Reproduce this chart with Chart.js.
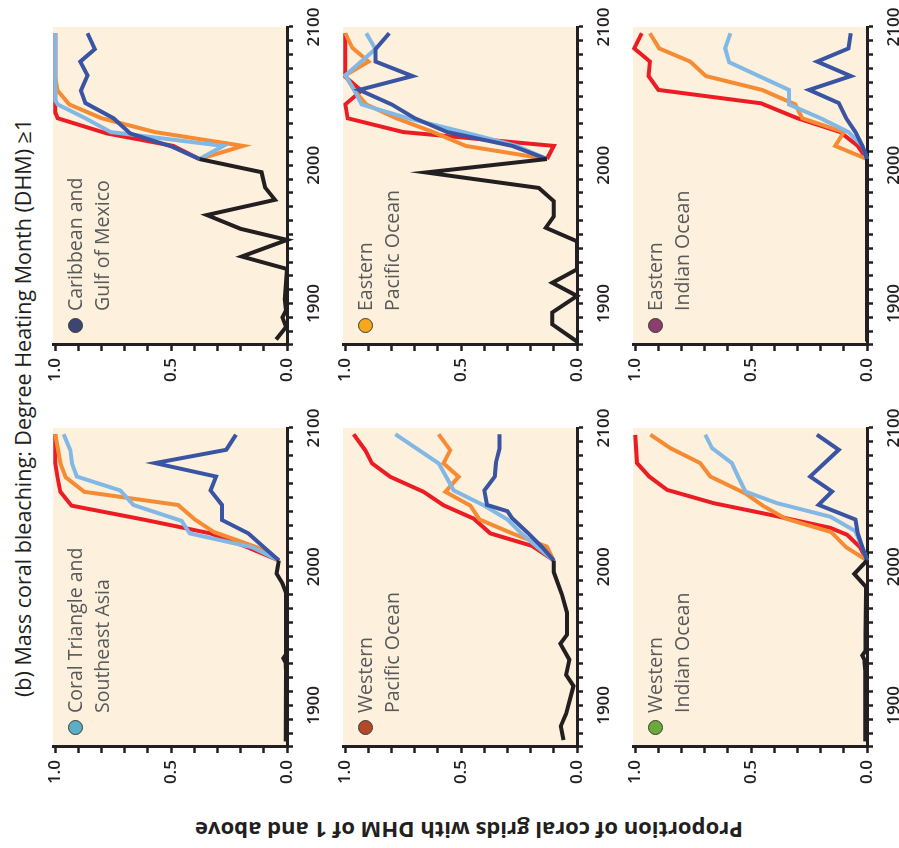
<!DOCTYPE html>
<html><head><meta charset="utf-8">
<script src="https://cdn.jsdelivr.net/npm/chart.js@4.4.1/dist/chart.umd.min.js"></script>
<style>
html,body{margin:0;padding:0;background:#fff;overflow:hidden;width:899px;height:848px;}
#fig{position:absolute;left:0;top:0;width:848px;height:899px;transform-origin:0 0;transform:translateY(848px) rotate(-90deg);}
#fig canvas{position:absolute;}
.lbl{position:absolute;font-family:'Open Sans',sans-serif;font-size:19.5px;line-height:27px;color:#58595b;white-space:nowrap;}
.dot{position:absolute;width:15px;height:15px;border-radius:50%;box-sizing:border-box;border:1px solid #3a3a3a;}
#title{position:absolute;left:151px;top:7.5px;font-family:'Open Sans',sans-serif;font-size:21.5px;line-height:30px;color:#231f20;white-space:nowrap;}
#ytitle{position:absolute;width:700px;height:30px;line-height:30px;text-align:center;font-family:'Open Sans',sans-serif;font-weight:700;font-size:22px;color:#231f20;white-space:nowrap;transform:rotate(-90deg);}
</style></head>
<body>
<div id="fig">
  <div id="title">(b) Mass coral bleaching: Degree Heating Month (DHM) ≥1</div>
  <div id="ytitle">Proportion of coral grids with DHM of 1 and above</div>
</div>
<script>
// ---------- tick labels ----------
const YEAR_LABELS = [1900, 2000, 2100];
const PROP_LABELS = [0.0, 0.5, 1.0];

// ---------- data: [year, proportion] ----------
// Coral Triangle and Southeast Asia
const CTA_HIST = [[1874,0.005],[1925,0.004],[1931,0.006],[1934,0.016],[1937,0.004],[1981,0.004],[1988,0.02],[1995,0.045],[2000,0.04],[2004.5,0.035]];
const CTA_RCP26 = [[2004.5,0.035],[2014,0.1],[2024,0.167],[2033.7,0.281],[2044.6,0.281],[2055,0.33],[2065,0.306],[2074.7,0.57],[2084.3,0.262],[2095.2,0.22]];
const CTA_RCP45 = [[2004.5,0.035],[2014,0.15],[2024,0.42],[2033,0.455],[2044.5,0.663],[2055,0.72],[2065,0.907],[2074.5,0.928],[2084,0.935],[2095.5,0.964]];
const CTA_RCP60 = [[2004.5,0.035],[2014,0.13],[2025,0.315],[2034,0.397],[2044.5,0.47],[2054,0.875],[2064.5,0.955],[2074.5,0.978],[2095.5,1.0]];
const CTA_RCP85 = [[2004.5,0.035],[2014,0.17],[2024,0.33],[2034,0.62],[2044,0.93],[2054,0.978],[2064,0.99],[2074.5,1.0],[2095.5,1.0]];

// Caribbean and Gulf of Mexico
const CAR_HIST = [[1874,0.047],[1883,0.004],[1890,0.02],[1895,0.004],[1903,0.01],[1925,0],[1934,0.195],[1946,0],[1954,0.2],[1964,0.346],[1975,0.052],[1984,0.095],[1995,0.11],[2004.5,0.378]];
const CAR_RCP26 = [[2004.5,0.378],[2013.5,0.497],[2023,0.677],[2034,0.749],[2045,0.87],[2054,0.89],[2065,0.861],[2075,0.892],[2084,0.83],[2095.5,0.861]];
const CAR_RCP45 = [[2004.5,0.378],[2014,0.275],[2024,0.76],[2034,0.87],[2044,0.99],[2047,1.0],[2095.5,1.0]];
const CAR_RCP60 = [[2004.5,0.378],[2014,0.19],[2024,0.57],[2034,0.8],[2044,0.94],[2054,0.99],[2064,1.0],[2095.5,1.0]];
const CAR_RCP85 = [[2004.5,0.378],[2014,0.49],[2023,0.777],[2034,0.99],[2038,1.0],[2095.5,1.0]];

// Western Pacific Ocean
const WPA_HIST = [[1875,0.058],[1885,0.07],[1894,0.047],[1914,0.015],[1922,0.047],[1933,0.033],[1944.5,0.072],[1951,0.043],[1967,0.043],[1980,0.065],[1996,0.1],[2004.5,0.1]];
const WPA_RCP26 = [[2004.5,0.1],[2014,0.15],[2024,0.21],[2035,0.28],[2040,0.3],[2044.5,0.388],[2055,0.4],[2065,0.355],[2075,0.35],[2085,0.335],[2095.5,0.335]];
const WPA_RCP45 = [[2004.5,0.1],[2014,0.17],[2024,0.24],[2034,0.3],[2044,0.4],[2055,0.532],[2074.5,0.597],[2095.5,0.784]];
const WPA_RCP60 = [[2004.5,0.1],[2014.5,0.13],[2024,0.28],[2034,0.42],[2044,0.46],[2054,0.568],[2064.8,0.511],[2074.5,0.576],[2084,0.547],[2095.5,0.597]];
const WPA_RCP85 = [[2004.5,0.1],[2015,0.194],[2024,0.374],[2034.7,0.446],[2044.3,0.576],[2054,0.662],[2064.8,0.806],[2074.5,0.885],[2084,0.914],[2095.5,0.964]];

// Eastern Pacific Ocean
const EPA_HIST = [[1872.5,0],[1885,0.107],[1893.5,0.107],[1905.5,0],[1915,0.107],[1924.7,0],[1945,0],[1954.8,0.135],[1963,0.1],[1974,0.1],[1983.6,0.165],[1994.8,0.652],[2004.5,0.13]];
const EPA_RCP26 = [[2004.5,0.13],[2014,0.28],[2024,0.56],[2034,0.7],[2044,0.8],[2054.5,0.94],[2064.5,0.71],[2075,0.87],[2084,0.87],[2095.5,0.81]];
const EPA_RCP45 = [[2004.5,0.13],[2014,0.26],[2024,0.49],[2034,0.73],[2044,0.93],[2054,0.96],[2065,1.0],[2084,0.87],[2095.5,0.91]];
const EPA_RCP60 = [[2004.5,0.13],[2014,0.48],[2024,0.62],[2034,0.78],[2044,0.91],[2054,0.96],[2065,1.0],[2075,0.9],[2085,0.97],[2095.5,1.0]];
const EPA_RCP85 = [[2004.5,0.13],[2014,0.1],[2024,0.75],[2034,0.99],[2044,1.0],[2054,0.93],[2064,1.0],[2095.5,1.0]];

// Western Indian Ocean
const WIN_HIST = [[1874,0.008],[1925,0.008],[1933,0.012],[1936,0.02],[1939,0.008],[1980,0.004],[1985.6,0.005],[1994.8,0.055],[2004.5,0]];
const WIN_RCP26 = [[2004.5,0],[2014,0.02],[2024,0.04],[2034,0.05],[2044.6,0.209],[2054.2,0.151],[2065,0.245],[2084.3,0.122],[2095.2,0.216]];
const WIN_RCP45 = [[2004.5,0],[2014,0.02],[2025.6,0.05],[2036,0.158],[2045.8,0.388],[2054.2,0.525],[2064.5,0.555],[2074.7,0.583],[2085.5,0.669],[2095.2,0.698]];
const WIN_RCP60 = [[2004.5,0],[2014,0.09],[2025,0.155],[2034.7,0.352],[2044,0.45],[2052.8,0.525],[2065,0.676],[2074.7,0.72],[2085.5,0.849],[2095.2,0.935]];
const WIN_RCP85 = [[2004.5,0],[2014,0.03],[2023,0.086],[2028,0.158],[2037.4,0.417],[2045.8,0.662],[2055.4,0.863],[2065,0.94],[2074.7,0.993],[2095,1.0]];

// Eastern Indian Ocean
const EIN_HIST = [[1872.5,0],[2004.5,0]];
const EIN_RCP26 = [[2004.5,0],[2014,0.02],[2024,0.05],[2034,0.09],[2045,0.122],[2054.5,0.25],[2064.5,0.07],[2075,0.215],[2084.5,0.08],[2095.5,0.07]];
const EIN_RCP45 = [[2004.5,0],[2014,0.02],[2024,0.08],[2034,0.2],[2044,0.337],[2054.5,0.337],[2074.5,0.595],[2084.5,0.612],[2095.5,0.59]];
const EIN_RCP60 = [[2004.5,0],[2014,0.137],[2024,0.1],[2034,0.28],[2044,0.31],[2054.5,0.453],[2064.5,0.695],[2075,0.763],[2084.5,0.897],[2095.5,0.937]];
const EIN_RCP85 = [[2004.5,0],[2014,0.04],[2024,0.115],[2034,0.3],[2044.8,0.458],[2054.5,0.9],[2064.5,0.943],[2075,0.937],[2084.5,1.005],[2095.5,0.972]];

// ---------- styles ----------
const BEIGE = '#fdf0dc';
const INK = '#231f20';
const C_HIST = '#231f20', C_26 = '#3a54a4', C_45 = '#82b8e5', C_60 = '#f68b33', C_85 = '#ec1c24';

const PANELS = [
  {lines:['Coral Triangle and','Southeast Asia'], dot:'#5aafc6', col:0, row:0, s:[CTA_HIST,CTA_RCP26,CTA_RCP45,CTA_RCP60,CTA_RCP85]},
  {lines:['Western','Pacific Ocean'], dot:'#b6472a', col:0, row:1, s:[WPA_HIST,WPA_RCP26,WPA_RCP45,WPA_RCP60,WPA_RCP85]},
  {lines:['Western','Indian Ocean'], dot:'#6aaa3a', col:0, row:2, s:[WIN_HIST,WIN_RCP26,WIN_RCP45,WIN_RCP60,WIN_RCP85]},
  {lines:['Caribbean and','Gulf of Mexico'], dot:'#3d4573', col:1, row:0, s:[CAR_HIST,CAR_RCP26,CAR_RCP45,CAR_RCP60,CAR_RCP85]},
  {lines:['Eastern','Pacific Ocean'], dot:'#f6a81c', col:1, row:1, s:[EPA_HIST,EPA_RCP26,EPA_RCP45,EPA_RCP60,EPA_RCP85]},
  {lines:['Eastern','Indian Ocean'], dot:'#8b3d6b', col:1, row:2, s:[EIN_HIST,EIN_RCP26,EIN_RCP45,EIN_RCP60,EIN_RCP85]}
];

// plot-area geometry in the (unrotated) figure
const COL_X = [[101, 420], [503, 821]];
const ROW_Y = [[53, 287], [343, 577], [633, 867]];
const PAD = {l: 60, t: 20, r: 32, b: 45};

const fig = document.getElementById('fig');

const bgPlugin = {
  id: 'bg',
  beforeDraw(chart) {
    const {ctx, chartArea: a} = chart;
    ctx.save();
    ctx.fillStyle = BEIGE;
    ctx.fillRect(a.left, a.top, a.right - a.left, a.bottom - a.top);
    ctx.restore();
  }
};

const toXY = arr => arr.map(p => ({x: p[0], y: p[1]}));
const tickFont = {family: "'Open Sans', sans-serif", size: 17, weight: '600'};

PANELS.forEach(p => {
  const [L, R] = COL_X[p.col];
  const [T, B] = ROW_Y[p.row];
  const w = R - L + PAD.l + PAD.r, h = B - T + PAD.t + PAD.b;
  const cv = document.createElement('canvas');
  cv.width = w; cv.height = h;
  cv.style.left = (L - PAD.l) + 'px';
  cv.style.top = (T - PAD.t) + 'px';
  cv.style.width = w + 'px'; cv.style.height = h + 'px';
  fig.appendChild(cv);

  const colors = [C_HIST, C_26, C_45, C_60, C_85];
  const datasets = p.s.map((arr, i) => ({
    data: toXY(arr),
    borderColor: colors[i],
    borderWidth: 4,
    pointRadius: 0,
    tension: 0,
    fill: false,
    clip: false,
    borderJoinStyle: 'miter',
    borderCapStyle: 'butt'
  }));

  new Chart(cv, {
    type: 'line',
    data: {datasets},
    plugins: [bgPlugin],
    options: {
      responsive: false,
      animation: false,
      devicePixelRatio: 1,
      layout: {padding: {left: 0, top: PAD.t, right: PAD.r, bottom: 0}},
      plugins: {legend: {display: false}, tooltip: {enabled: false}, title: {display: false}},
      scales: {
        x: {
          type: 'linear', min: 1870, max: 2100,
          afterFit: s => { s.height = PAD.b; },
          border: {display: true, color: INK, width: 3},
          grid: {display: true, drawOnChartArea: false, drawTicks: true, tickLength: 6, tickWidth: 2.5, tickColor: INK},
          ticks: {
            stepSize: 10, autoSkip: false, maxRotation: 0, minRotation: 0, maxTicksLimit: 100,
            padding: 11, color: INK, font: tickFont,
            callback: v => (YEAR_LABELS.includes(v) ? String(v) : '')
          }
        },
        y: {
          type: 'linear', min: 0, max: 1.01,
          afterFit: s => { s.width = PAD.l; },
          border: {display: true, color: INK, width: 3},
          grid: {display: true, drawOnChartArea: false, drawTicks: true, tickLength: 6, tickWidth: 2.5, tickColor: INK},
          ticks: {
            stepSize: 0.1, includeBounds: false, autoSkip: false, maxTicksLimit: 100,
            padding: 7, color: INK, font: tickFont,
            callback: v => (PROP_LABELS.some(t => Math.abs(t - v) < 1e-9) ? v.toFixed(1) : '')
          }
        }
      }
    }
  });

  // panel label
  const top1 = B - (B - T) / 1.01;
  const dot = document.createElement('div');
  dot.className = 'dot';
  dot.style.background = p.dot;
  dot.style.left = (L + 19 - 7.5) + 'px';
  dot.style.top = (top1 + 20 - 7.5) + 'px';
  fig.appendChild(dot);
  const lbl = document.createElement('div');
  lbl.className = 'lbl';
  lbl.style.left = (L + 34) + 'px';
  lbl.style.top = (top1 + 6) + 'px';
  lbl.innerHTML = p.lines.join('<br>');
  fig.appendChild(lbl);
});

// y-axis title: centre (x=18, y=468.5) in the unrotated figure
const yt = document.getElementById('ytitle');
yt.style.left = (17 - 350) + 'px';
yt.style.top = (468.5 - 15) + 'px';
</script>
</body></html>
